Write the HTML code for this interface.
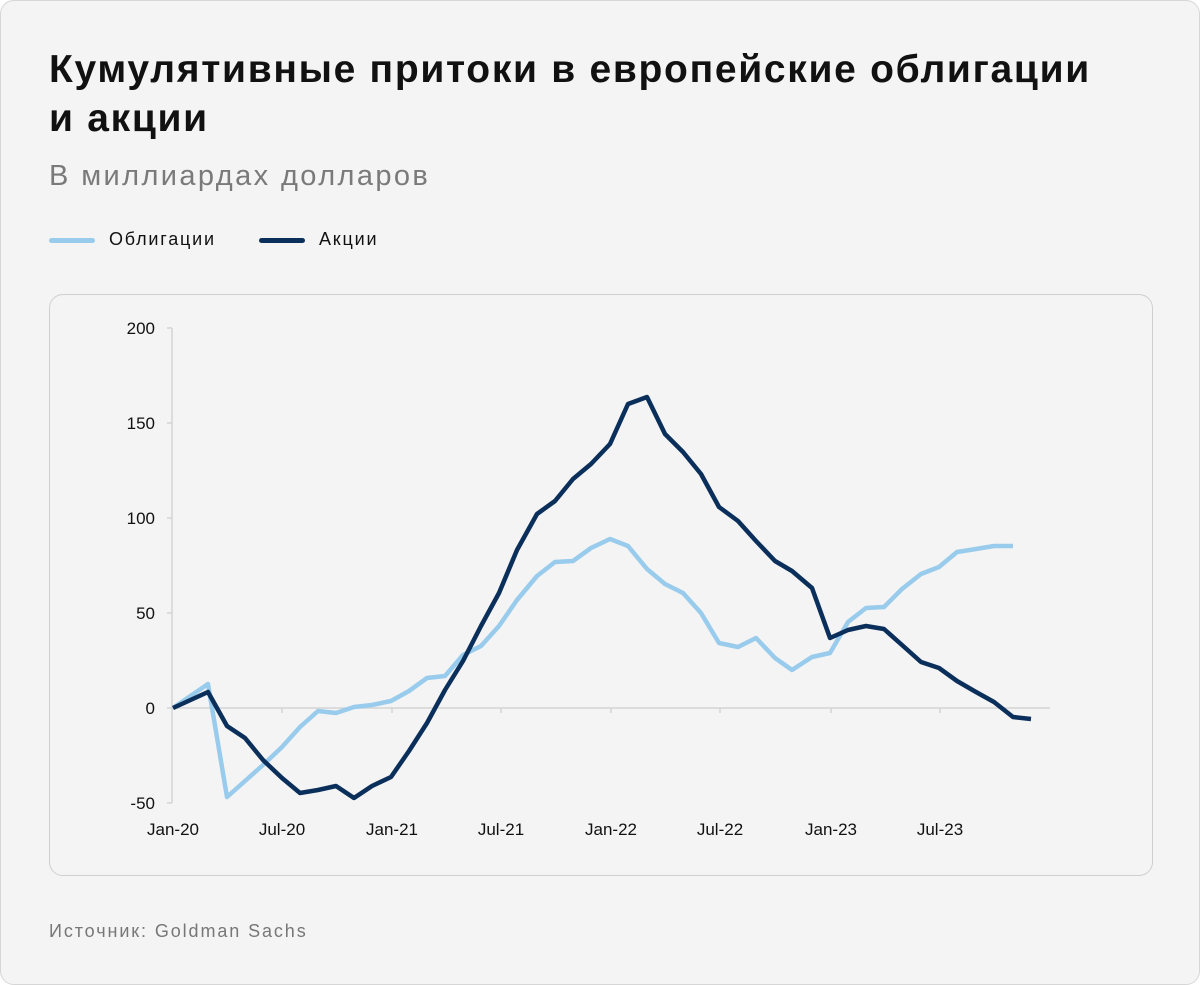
<!DOCTYPE html>
<html><head><meta charset="utf-8"><style>
body{margin:0;background:#fff;font-family:"Liberation Sans",sans-serif;}
.card{position:absolute;left:0;top:0;width:1198px;height:983px;border:1px solid #d6d6d6;border-radius:14px;background:#f4f4f4;}
.t{position:absolute;left:48px;top:44px;font-size:39px;font-weight:bold;line-height:49px;color:#111;letter-spacing:1.7px}
.s{position:absolute;left:48px;top:159px;font-size:29px;color:#7a7a7a;letter-spacing:2.4px}
.lg{position:absolute;top:228px;font-size:18px;color:#111;letter-spacing:1.8px}
.src{position:absolute;left:48px;top:920px;font-size:18px;color:#777;letter-spacing:1.9px}
.box{position:absolute;left:48px;top:293px;width:1102px;height:580px;border:1px solid #cfcfcf;border-radius:14px}
</style></head><body>
<div class="card">
<div class="t">Кумулятивные притоки в европейские облигации<br>и акции</div>
<div class="s">В миллиардах долларов</div>
<div class="lg" style="left:48px"><span style="display:inline-block;width:46px;height:5px;background:#99ccec;border-radius:3px;vertical-align:middle;margin-right:14px"></span>Облигации</div>
<div class="lg" style="left:258px"><span style="display:inline-block;width:46px;height:5px;background:#0b2f5b;border-radius:3px;vertical-align:middle;margin-right:14px"></span>Акции</div>
<div class="box"></div>
<svg width="1200" height="985" style="position:absolute;left:-1px;top:-1px">
<g stroke="#d4d4d4" stroke-width="1.5" fill="none">
<line x1="172" y1="328" x2="172" y2="803"/>
<line x1="172" y1="708" x2="1050" y2="708"/>
<path d="M167 328H172M167 423H172M167 518H172M167 613H172M167 708H172M167 803H172"/>
<path d="M282 708V713M392 708V713M501 708V713M611 708V713M720 708V713M831 708V713M940 708V713"/>
</g>
<g font-family="Liberation Sans" font-size="17" fill="#111" text-anchor="end">
<text x="155" y="334">200</text><text x="155" y="429">150</text><text x="155" y="524">100</text><text x="155" y="619">50</text><text x="155" y="714">0</text><text x="155" y="809">-50</text>
</g>
<g font-family="Liberation Sans" font-size="17" fill="#111" text-anchor="middle">
<text x="173" y="835">Jan-20</text><text x="282" y="835">Jul-20</text><text x="392" y="835">Jan-21</text><text x="501" y="835">Jul-21</text><text x="611" y="835">Jan-22</text><text x="720" y="835">Jul-22</text><text x="831" y="835">Jan-23</text><text x="940" y="835">Jul-23</text>
</g>
<polyline fill="none" stroke="#99ccec" stroke-width="4.5" stroke-linejoin="round" points="173,708 208,684 227,797 245,781 263,765 282,747 300,727 318,711 336,713 354,707 372,705 391,701 409,691 427,678 445,676 463,655 481,646 499,626 517,600 537,576 555,562 573,561 591,548 610,539 628,546 647,569 665,584 683,593 701,613 719,643 738,647 756,638 775,658 792,670 812,657 830,653 848,622 866,608 884,607 902,589 921,574 939,567 957,552 976,549 994,546 1013,546"/>
<polyline fill="none" stroke="#0b2f5b" stroke-width="4.5" stroke-linejoin="round" points="173,708 208,692 227,726 245,738 263,760 282,778 300,793 318,790 336,786 354,798 372,786 391,777 409,751 427,723 445,690 463,661 481,626 499,593 517,550 537,514 555,501 573,479 591,464 610,444 628,404 647,397 665,434 683,452 701,474 719,507 738,521 756,541 775,561 792,571 812,588 830,638 848,630 866,626 884,629 902,645 921,662 939,668 957,681 976,692 994,702 1013,717 1031,719"/>
</svg>
<div class="src">Источник: Goldman Sachs</div>
</div>
</body></html>
